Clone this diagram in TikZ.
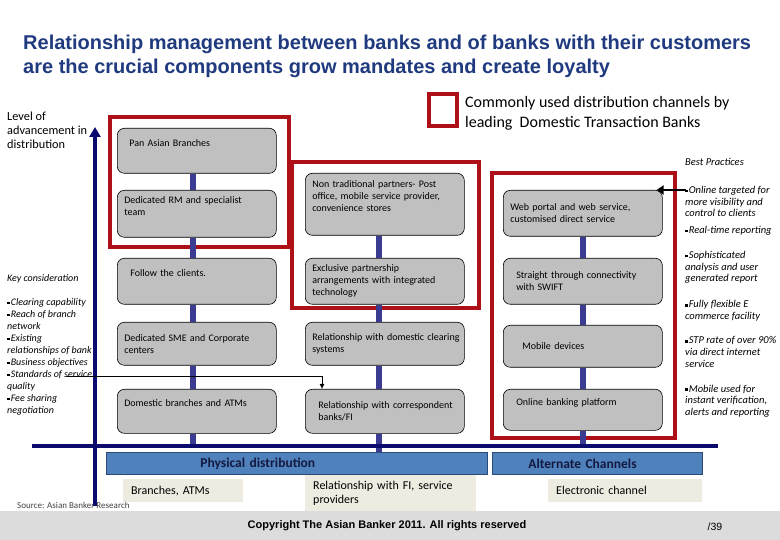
\documentclass[tikz,border=0pt]{standalone}
\usepackage{fontspec}
\setmainfont{Carlito}
\newfontfamily\arialfont{Liberation Sans}
\usepackage{xcolor}
\usepackage{tikz}
\usetikzlibrary{arrows.meta, positioning, calc}
\definecolor{tbnavy}{HTML}{0B0B6E}
\definecolor{tbtitle}{HTML}{1F3A7E}
\definecolor{tblink}{HTML}{3B3B92}
\definecolor{tbred}{HTML}{AE1018}
\definecolor{tbgray}{HTML}{C0C0C0}
\definecolor{tbbar}{HTML}{4F81BD}
\definecolor{tbbarline}{HTML}{2C4A78}
\definecolor{tbbartext}{HTML}{14193F}
\definecolor{tbbeige}{HTML}{EEECE1}
\definecolor{tbfoot}{HTML}{DCDCDC}
\newcommand{\sqb}{\raisebox{1.4pt}{\rule{2.6pt}{2.6pt}}\hspace{1pt}}

\begin{document}
\begin{tikzpicture}[x=1pt, y=-1pt,
  chan/.style={draw=black, line width=0.6pt, fill=tbgray, rounded corners=7pt,
    anchor=north west, text width=145pt, inner xsep=7pt,
    inner ysep=0pt, align=left, font=\fontsize{10}{12}\selectfont},
  redframe/.style={draw=tbred, line width=3.6pt},
  link/.style={draw=tblink, line width=5.5pt},
  chanbar/.style={draw=tbbarline, line width=0.8pt, fill=tbbar, anchor=north west,
    minimum height=22pt, inner xsep=0pt, inner ysep=0pt, align=left,
    font=\fontsize{13.5}{16}\selectfont\bfseries, text=tbbartext},
  subnote/.style={fill=tbbeige, anchor=north west, inner xsep=8pt, inner ysep=0pt,
    align=left, font=\fontsize{12}{14}\selectfont},
  sidetext/.style={anchor=west, inner sep=0pt, align=left,
    font=\fontsize{10.5}{11.6}\selectfont\itshape}]
\useasboundingbox (0,0) rectangle (780,540);

\node[font=\arialfont\fontsize{20}{24}\selectfont\bfseries, text=tbtitle, anchor=west,
  align=left, inner sep=0pt] (title) at (23,56)
  {Relationship management between banks and of banks with their customers\\
   are the crucial components grow mandates and create loyalty};

\node[draw=tbred, line width=3.6pt, minimum width=28pt, minimum height=32pt, inner sep=0pt]
  (key) at (443,110) {};
\node[font=\fontsize{16}{20}\selectfont, anchor=west, align=left, inner sep=0pt]
  (keytext) at (465,113) {Commonly used distribution channels by\\leading\ \ Domestic Transaction Banks};

\node[font=\fontsize{12.3}{14.2}\selectfont, anchor=west, align=left, inner sep=0pt]
  (level) at (7,130.5) {Level of\\advancement in\\distribution};

\draw[redframe] (110,117) rectangle (289,247);
\draw[redframe] (292,162) rectangle (479,308);
\draw[redframe] (492,173) rectangle (675,438);

\node[chan, minimum height=45pt] (pan) at (117,128) {\hspace*{5pt}Pan Asian Branches\\\strut};
\node[chan, minimum height=47pt] (rm) at (117,190) {Dedicated RM and specialist\\team\\\strut};
\node[chan, minimum height=46pt] (follow) at (117,258) {\hspace*{6pt}Follow the clients.\\\strut};
\node[chan, minimum height=43pt] (sme) at (117,322) {Dedicated SME and Corporate\\centers};
\node[chan, minimum height=44pt] (dom) at (117,389) {Domestic branches and ATMs\\\strut};

\node[chan, minimum height=62pt] (nontrad) at (305,173)
  {Non traditional partners- Post\\office, mobile service provider,\\convenience stores\\\strut};
\node[chan, minimum height=46pt] (excl) at (305,258)
  {Exclusive partnership\\arrangements with integrated\\technology};
\node[chan, minimum height=43pt] (clear) at (305,322)
  {\mbox{Relationship with domestic clearing}\\systems};
\node[chan, minimum height=44pt] (corr) at (305,389)
  {\hspace*{6pt}Relationship with correspondent\\\hspace*{6pt}banks/FI};

\node[chan, minimum height=46pt] (web) at (503,190)
  {Web portal and web service,\\customised direct service};
\node[chan, minimum height=46pt] (stp) at (503,258)
  {\hspace*{6pt}Straight through connectivity\\\hspace*{6pt}with SWIFT};
\node[chan, minimum height=42pt] (mobile) at (503,325) {\hspace*{12pt}Mobile devices};
\node[chan, minimum height=41pt] (online) at (503,389) {\hspace*{6pt}Online banking platform\\\strut};

\node[chanbar, minimum width=381pt, text width=381pt] (phys) at (106,452)
  {\hspace*{94pt}Physical distribution};
\node[chanbar, minimum width=210pt, text width=210pt] (alt) at (492,452)
  {\hspace*{36pt}Alternate Channels};

\coordinate (lineL) at (32,446);
\coordinate (lineR) at (718,446);
\coordinate (axBot) at (95,506);
\coordinate (axTop) at (95,127);

\draw[link] ([xshift=-4pt]pan.south) -- ([xshift=-4pt]rm.north);
\draw[link] ([xshift=-4pt]rm.south) -- ([xshift=-4pt]follow.north);
\draw[link] ([xshift=-4pt]follow.south) -- ([xshift=-4pt]sme.north);
\draw[link] ([xshift=-4pt]sme.south) -- ([xshift=-4pt]dom.north);
\draw[link] ([xshift=-4pt]dom.south) -- ([xshift=-4pt]dom.south |- lineL);
\draw[link] ([xshift=-6pt]nontrad.south) -- ([xshift=-6pt]excl.north);
\draw[link] ([xshift=-6pt]excl.south) -- ([xshift=-6pt]clear.north);
\draw[link] ([xshift=-6pt]clear.south) -- ([xshift=-6pt]corr.north);
\draw[link] ([xshift=-6pt]corr.south) -- ([xshift=-6pt]corr.south |- phys.north);
\draw[link] (web) -- (stp);
\draw[link] (stp) -- (mobile);
\draw[link] (mobile) -- (online);
\draw[link] (online.south) -- (online.south |- lineL);

\draw[tbnavy, line width=4pt] (lineL) -- (lineR);
\draw[tbnavy, line width=4pt, -{Triangle[length=10pt, width=11pt]}] (axBot) -- (axTop);

\node[subnote, minimum width=120pt, minimum height=23pt, text width=104pt] (branches) at (123,479)
  {Branches, ATMs};
\node[subnote, minimum width=171pt, minimum height=36pt, text width=155pt] (fi) at (305,475)
  {Relationship with FI, service\\providers};
\node[subnote, minimum width=154pt, minimum height=23pt, text width=138pt] (elec) at (548,479)
  {Electronic channel};

\node[sidetext, font=\fontsize{10}{12}\selectfont\itshape] (keycons) at (7,345)
  {Key consideration\\ \\\sqb Clearing capability\\\sqb Reach of branch\\network\\\sqb Existing\\
   relationships of bank\\\sqb Business objectives\\\sqb Standards of service\\quality\\
   \sqb Fee sharing\\negotiation};
\coordinate (ksLine) at (66,376);
\draw[line width=0.8pt, -{Latex[length=5pt, width=5pt]}] (ksLine) -| ([xshift=17pt]corr.north west);

\node[sidetext] (bphead) at (685,162) {Best Practices};
\node[sidetext] (bp1) at (685,201.5) {\sqb Online targeted for\\more visibility and\\control to clients};
\node[sidetext] (bp2) at (685,231) {\sqb Real-time reporting};
\node[sidetext] (bp3) at (685,267.5) {\sqb Sophisticated\\analysis and user\\generated report};
\node[sidetext] (bp4) at (685,311) {\sqb Fully flexible E\\commerce facility};
\node[sidetext] (bp5) at (685,352) {\sqb STP rate of over 90\%\\via direct internet\\service};
\node[sidetext] (bp6) at (685,401) {\sqb Mobile used for\\instant verification,\\alerts and reporting};
\coordinate (bpArrow) at (686,190);
\draw[line width=2.6pt, -{Triangle[length=7pt, width=9pt]}] (bpArrow) -- ([xshift=-6pt]web.north east);

\fill[tbfoot] (0,511) rectangle (780,540);
\node[font=\fontsize{9}{10}\selectfont, text=black!75, anchor=west, inner sep=0pt]
  (source) at (17,505) {Source: Asian Banker Research};
\node[font=\arialfont\fontsize{11}{13}\selectfont\bfseries, inner sep=0pt] (copy) at (387,526)
  {Copyright The Asian Banker 2011. All rights reserved};
\node[font=\arialfont\fontsize{10.5}{12}\selectfont, inner sep=0pt] (pgno) at (715,527) {/39};
\end{tikzpicture}
\end{document}
